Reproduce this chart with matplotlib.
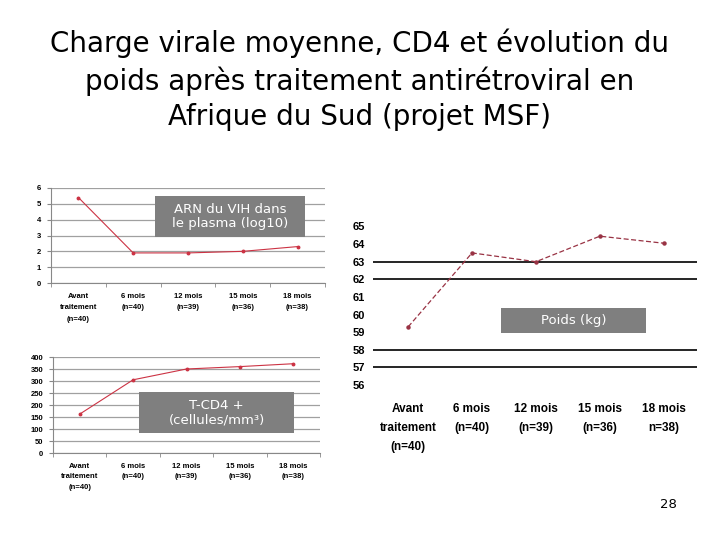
import matplotlib
matplotlib.use("Agg")
import matplotlib.pyplot as plt
import matplotlib.patches as pat
import numpy as np

cats_left = ["Avant\ntraitement\n(n=40)", "6 mois\n(n=40)", "12 mois\n(n=39)",
             "15 mois\n(n=36)", "18 mois\n(n=38)"]
cats_right = ["Avant\ntraitement\n(n=40)", "6 mois\n(n=40)", "12 mois\n(n=39)",
              "15 mois\n(n=36)", "18 mois\nn=38)"]
arn = [5.4, 1.9, 1.9, 2.0, 2.3]
cd4 = [162, 305, 350, 360, 372]
poids = [59.3, 63.5, 63.0, 64.45, 64.05]
poids_grid = [57, 58, 62, 63]

narrow = ["Liberation Sans", "DejaVu Sans"]
red = "#cc3344"
box_grey = "#7f7f7f"

fig = plt.figure(figsize=(7.2, 5.4), dpi=100)
W, H = 720, 540

def fx(x, y, w, h):
    # pixel box (top-left origin) -> figure fraction
    return [x / W, 1 - (y + h) / H, w / W, h / H]

def small_chart(rect, values, yticks, ymax, lsp):
    ax = fig.add_axes(fx(*rect))
    x = np.arange(len(values))
    ax.plot(x, values, "-", color=red, lw=0.8, marker="o", ms=1.8)
    ax.set_xlim(-0.5, len(values) - 0.5)
    ax.set_ylim(0, ymax)
    ax.set_yticks(yticks)
    ax.set_yticklabels([str(t) for t in yticks], fontsize=5.5,
                       fontweight="bold", family=narrow)
    ax.set_xticks(x)
    ax.set_xticklabels(cats_left, fontsize=5.5, fontweight="bold",
                       family=narrow, linespacing=lsp)
    ax.set_xticks(np.arange(-0.5, len(values)), minor=True)
    ax.tick_params(axis="x", which="major", length=0, pad=7)
    ax.tick_params(axis="x", which="minor", length=3, color="#888888")
    ax.tick_params(axis="y", length=3, color="#888888", pad=4)
    ax.grid(axis="y", color="#a0a0a0", lw=0.9)
    ax.set_axisbelow(True)
    for s in ["top", "right"]:
        ax.spines[s].set_visible(False)
    for s in ["left", "bottom"]:
        ax.spines[s].set_color("#888888")
        ax.spines[s].set_linewidth(0.8)
    return ax

small_chart((51, 188, 274, 95), arn, list(range(0, 7)), 6, 1.9)
small_chart((53, 357, 267, 96), cd4, list(range(0, 401, 50)), 400, 1.7)

# graphique du poids
ax = fig.add_axes(fx(373, 226.5, 324, 158.5))
x = np.arange(len(poids))
ax.plot(x, poids, color="#993344", lw=0.9, dashes=(4, 2), marker="o", ms=2.2)
for g in poids_grid:
    ax.axhline(g, color="black", lw=1.2, zorder=0)
ax.set_xlim(-0.55, 4.52)
ax.set_ylim(56, 65)
ax.set_yticks(range(56, 66))
ax.set_yticklabels([str(t) for t in range(56, 66)], fontsize=8,
                   fontweight="bold", family=narrow)
ax.set_xticks(x)
ax.set_xticklabels(cats_right, fontsize=8.5, fontweight="bold", family=narrow,
                   linespacing=1.75)
ax.tick_params(axis="x", length=0, pad=13)
ax.tick_params(axis="y", length=0, pad=6)
for s in ax.spines.values():
    s.set_visible(False)

# encadrés gris
boxes = [((155, 196, 150, 41), "ARN du VIH dans\nle plasma (log10)"),
         ((139, 392, 155, 41), "T-CD4 +\n(cellules/mm³)"),
         ((501, 308, 145, 25), "Poids (kg)")]
for (bx, by, bw, bh), txt in boxes:
    r = fx(bx, by, bw, bh)
    fig.patches.append(pat.Rectangle((r[0], r[1]), r[2], r[3], transform=fig.transFigure,
                                     fc=box_grey, ec="none", zorder=5))
    fig.text(r[0] + r[2] / 2, r[1] + r[3] / 2, txt, ha="center", va="center",
             color="white", fontsize=9.5, linespacing=1.15, zorder=6)

# titre
fig.text(0.5, 1 - 80 / H, "Charge virale moyenne, CD4 et évolution du\n"
         "poids après traitement antirétroviral en\nAfrique du Sud (projet MSF)",
         ha="center", va="center", fontsize=20, linespacing=1.33)

fig.text(668 / W, 1 - 504 / H, "28", ha="center", va="center", fontsize=9.5)

fig.savefig("out.png", dpi=100)
